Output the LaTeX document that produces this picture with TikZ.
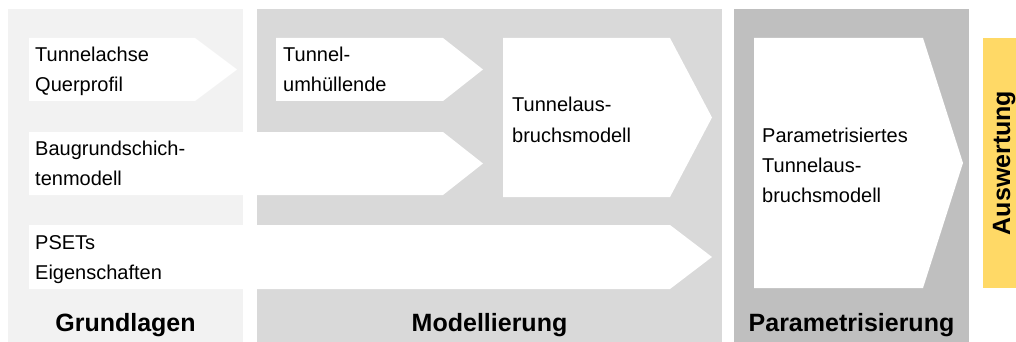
\documentclass[tikz,border=0pt]{standalone}
\usepackage{fontspec}
\setmainfont{Liberation Sans}
\definecolor{panelA}{HTML}{F2F2F2}
\definecolor{panelB}{HTML}{D9D9D9}
\definecolor{panelC}{HTML}{BFBFBF}
\definecolor{yellowbox}{HTML}{FFD966}
\newcommand\mychev[5]{% x1, y1, body end, tip, y2
  \fill[white] (#1,#2) -- (#3,#2) -- (#4,{(#2+#5)/2}) -- (#3,#5) -- (#1,#5) -- cycle;}
\newcommand\twolines[2]{\begin{tabular}[t]{@{}l@{}}#1\\#2\end{tabular}}
\newcommand\threelines[3]{\begin{tabular}[t]{@{}l@{}}#1\\#2\\#3\end{tabular}}
\begin{document}
\begin{tikzpicture}[x=1pt,y=-1pt,
  lbl/.style={anchor=base west,inner sep=0pt,font=\fontsize{20}{30}\selectfont,text=black},
  ttl/.style={anchor=base,inner sep=0pt,font=\fontsize{25}{30}\selectfont\bfseries,text=black}]
\useasboundingbox (0,0) rectangle (1016,342);
% panels
\fill[panelA] (8,9) rectangle (243,342);
\fill[panelB] (257,9) rectangle (722,342);
\fill[panelC] (734,9) rectangle (969,342);
\fill[yellowbox] (983,38) rectangle (1016,288);
% chevrons
\mychev{29}{38}{195}{237}{101}
\mychev{29}{132}{443}{483}{195}
\mychev{29}{225}{670}{712}{289}
\mychev{276}{38}{443}{483}{101}
\mychev{503}{38}{670}{712}{197}
\mychev{754}{38}{923}{963}{288}
% texts
\node[lbl] (t1) at (35,62) {\twolines{Tunnelachse}{Querprofil}};
\node[lbl] (t2) at (35,155) {\twolines{Baugrundschich-}{tenmodell}};
\node[lbl] (t3) at (35,249) {\twolines{PSETs}{Eigenschaften}};
\node[lbl] (t4) at (283,62) {\twolines{Tunnel-}{umhüllende}};
\node[lbl] (t5) at (512,112) {\twolines{Tunnelaus-}{bruchsmodell}};
\node[lbl] (t6) at (762,142) {\threelines{Parametrisiertes}{Tunnelaus-}{bruchsmodell}};
% titles
\node[ttl] (g) at (125.5,331) {Grundlagen};
\node[ttl] (m) at (489.5,331) {Modellierung};
\node[ttl] (p) at (851.5,331) {Parametrisierung};
\node[ttl,rotate=90] (a) at (1010,163) {Auswertung};
\end{tikzpicture}
\end{document}
